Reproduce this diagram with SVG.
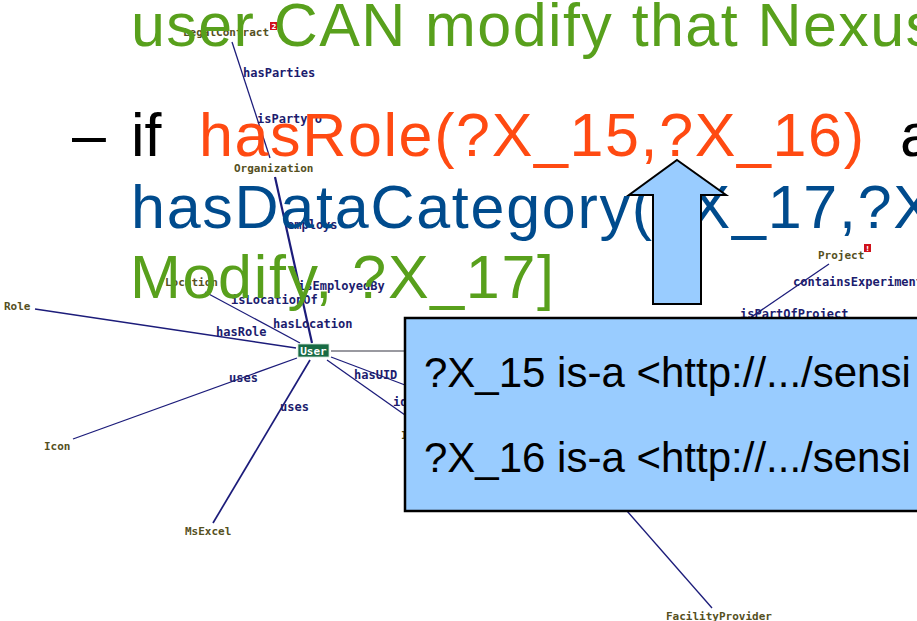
<svg xmlns="http://www.w3.org/2000/svg" width="917" height="621" viewBox="0 0 917 621">
<defs>
<style>
.edge{stroke:#1c1c7a;stroke-width:1.3;fill:none}
.elab{font-family:"DejaVu Sans Mono",monospace;font-weight:bold;font-size:12px;fill:#1c1c6e}
.nlab{font-family:"DejaVu Sans Mono",monospace;font-weight:bold;font-size:11px;fill:#55501e}
.big{font-family:"Liberation Sans",Arial,sans-serif;font-size:61px}
.green{fill:#58a01c}
.orange{fill:#ff4a12}
.blue{fill:#004b8d}
.callout{fill:#99ccff;stroke:#000;stroke-width:2.5}
.ctext{font-family:"Liberation Sans",Arial,sans-serif;font-size:42px;fill:#000}
.badge{fill:#d0101a}
.btext{font-family:"DejaVu Sans",sans-serif;font-weight:bold;font-size:7px;fill:#fff}
</style>
</defs>
<rect width="917" height="621" fill="#fff"/>

<g id="connectors">
<line class="edge" x1="232" y1="42" x2="270" y2="158"/>
<line class="edge" x1="275" y1="177" x2="312" y2="343" style="stroke-width:2.2"/>
<line class="edge" x1="205" y1="292" x2="300" y2="343"/>
<line class="edge" x1="35" y1="309" x2="296" y2="348"/>
<line class="edge" x1="297" y1="358" x2="73" y2="439"/>
<line class="edge" x1="310" y1="360" x2="213" y2="523" style="stroke-width:1.7"/>
<line class="edge" x1="331" y1="357" x2="405" y2="385"/>
<line class="edge" x1="327" y1="360" x2="405" y2="415"/>
<line x1="331" y1="351" x2="405" y2="351" stroke="#777780" stroke-width="1.3"/>
<line class="edge" x1="829" y1="264" x2="747" y2="320"/>
<line class="edge" x1="627" y1="511" x2="712" y2="608"/>
<text class="elab" x="243" y="77">hasParties</text>
<text class="elab" x="257" y="123">isPartyTo</text>
<text class="elab" x="287" y="229">employs</text>
<text class="elab" x="298" y="290">isEmployedBy</text>
<text class="elab" x="231" y="304">isLocationOf</text>
<text class="elab" x="273" y="328">hasLocation</text>
<text class="elab" x="216" y="336">hasRole</text>
<text class="elab" x="229" y="382">uses</text>
<text class="elab" x="280" y="411">uses</text>
<text class="elab" x="354" y="379">hasUID</text>
<text class="elab" x="393" y="406">id</text>
<text class="elab" x="793" y="286">containsExperiment</text>
<text class="elab" x="740" y="318">isPartOfProject</text>
</g>

<g id="node-legalcontract">
<text class="nlab" x="183" y="36">LegalContract</text>
<rect class="badge" x="270" y="22" width="7" height="8"/>
<text class="btext" x="271.5" y="29">2</text>
</g>
<g id="node-organization"><text class="nlab" x="234" y="172">Organization</text></g>
<g id="node-location"><text class="nlab" x="165" y="286">Location</text></g>
<g id="node-role"><text class="nlab" x="4" y="310">Role</text></g>
<g id="node-icon"><text class="nlab" x="44" y="450">Icon</text></g>
<g id="node-msexcel"><text class="nlab" x="185" y="535">MsExcel</text></g>
<g id="node-hidden"><text class="nlab" x="401" y="439">I</text></g>
<g id="node-project">
<text class="nlab" x="818" y="259">Project</text>
<rect class="badge" x="864" y="244" width="7" height="8"/>
<text class="btext" x="866" y="251">!</text>
</g>
<g id="node-facilityprovider"><text class="nlab" x="666" y="620">FacilityProvider</text></g>
<g id="node-user">
<rect x="298" y="344" width="31" height="13" fill="#186b44" stroke="#cfe3d6" stroke-width="0.8"/>
<text x="313.5" y="354.5" text-anchor="middle" style="font-family:'DejaVu Sans Mono',monospace;font-weight:bold;font-size:11px;fill:#fff">User</text>
</g>

<g id="slide-text">
<text class="big green" x="131" y="46" textLength="805" lengthAdjust="spacing">user CAN modify that Nexus</text>
<text class="big" x="72" y="156" fill="#000">–</text>
<text class="big" x="131" y="156" fill="#000">if</text>
<text class="big orange" x="199" y="156" textLength="665" lengthAdjust="spacing">hasRole(?X_15,?X_16)</text>
<text class="big" x="900" y="156" fill="#000">a</text>
<text class="big blue" x="131" y="228" textLength="803" lengthAdjust="spacing">hasDataCategory(?X_17,?X</text>
<text class="big green" x="130" y="298" textLength="424" lengthAdjust="spacing">Modify, ?X_17]</text>
</g>

<g id="arrow">
<polygon class="callout" style="stroke-width:2" points="677,160 726,195 701,195 701,304 653,304 653,195 629,195"/>
</g>

<g id="callout-box">
<rect class="callout" x="405" y="318" width="530" height="193"/>
<text class="ctext" x="424" y="387">?X_15 is-a &lt;http://.../sensi</text>
<text class="ctext" x="424" y="472">?X_16 is-a &lt;http://.../sensi</text>
</g>
</svg>
